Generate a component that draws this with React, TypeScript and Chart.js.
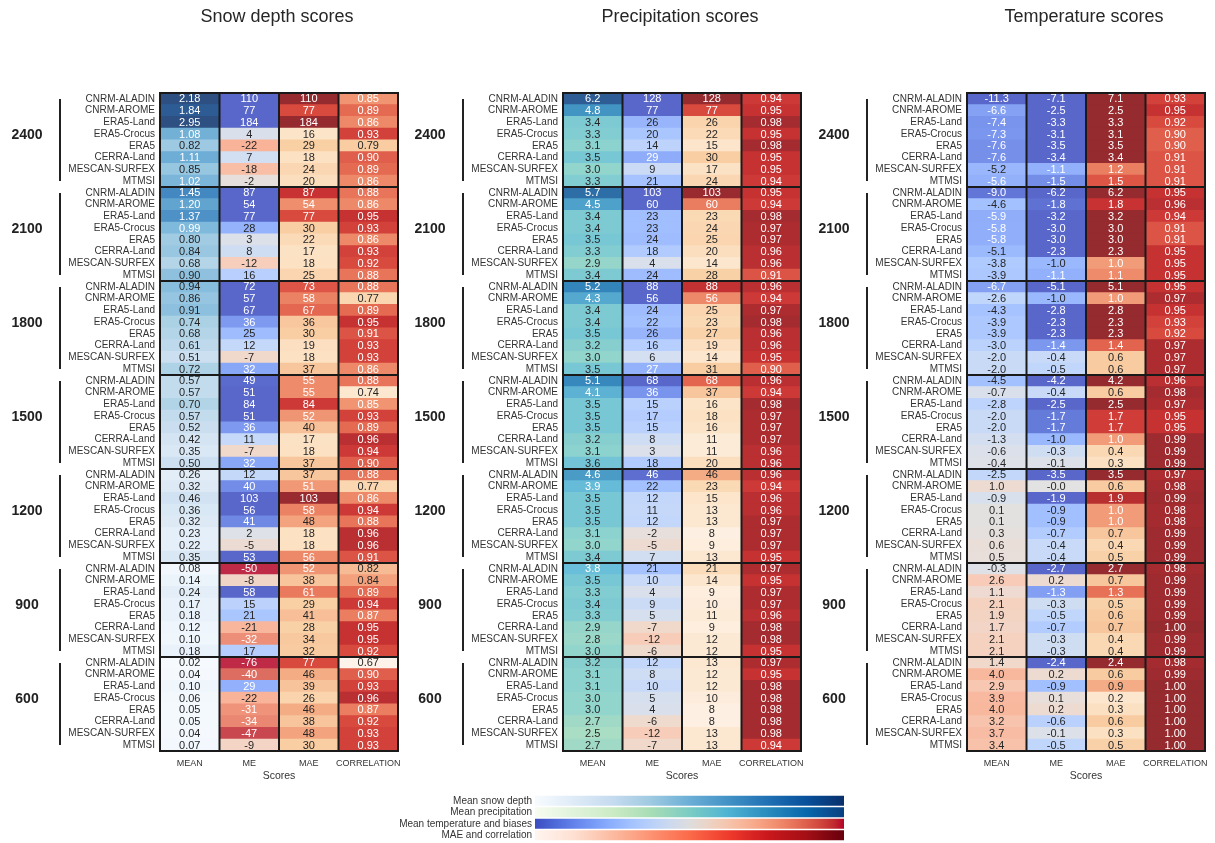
import React, { useEffect, useRef } from 'react';
import { Chart, registerables } from 'chart.js';

Chart.register(...registerables);

const FONT = '"Liberation Sans", Arial, Helvetica, sans-serif';
Chart.defaults.font.family = FONT;

const models = ['CNRM-ALADIN', 'CNRM-AROME', 'ERA5-Land', 'ERA5-Crocus', 'ERA5', 'CERRA-Land', 'MESCAN-SURFEX', 'MTMSI'];
const altitudes = ['2400', '2100', '1800', '1500', '1200', '900', '600'];
const scoreNames = ['MEAN', 'ME', 'MAE', 'CORRELATION'];
const panelTitles = ['Snow depth scores', 'Precipitation scores', 'Temperature scores'];
const legendLabels = ['Mean snow depth', 'Mean precipitation', 'Mean temperature and biases', 'MAE and correlation'];
const rowLabels = altitudes.flatMap(() => models);

const snowMean = [
  2.18, 1.84, 2.95, 1.08, 0.82, 1.11, 0.85, 1.02,
  1.45, 1.20, 1.37, 0.99, 0.80, 0.84, 0.68, 0.90,
  0.94, 0.86, 0.91, 0.74, 0.68, 0.61, 0.51, 0.72,
  0.57, 0.57, 0.70, 0.57, 0.52, 0.42, 0.35, 0.50,
  0.26, 0.32, 0.46, 0.36, 0.32, 0.23, 0.22, 0.35,
  0.08, 0.14, 0.24, 0.17, 0.18, 0.12, 0.10, 0.18,
  0.02, 0.04, 0.10, 0.06, 0.05, 0.05, 0.04, 0.07,
];
const snowME = [
  110, 77, 184, 4, -22, 7, -18, -2,
  87, 54, 77, 28, 3, 8, -12, 16,
  72, 57, 67, 36, 25, 12, -7, 32,
  49, 51, 84, 51, 36, 11, -7, 32,
  12, 40, 103, 56, 41, 2, -5, 53,
  -50, -8, 58, 15, 21, -21, -32, 17,
  -76, -40, 29, -22, -31, -34, -47, -9,
];
const snowMAE = [
  110, 77, 184, 16, 29, 18, 24, 20,
  87, 54, 77, 30, 22, 17, 18, 25,
  73, 58, 67, 36, 30, 19, 18, 37,
  55, 55, 84, 52, 40, 17, 18, 37,
  37, 51, 103, 58, 48, 18, 18, 56,
  52, 38, 61, 29, 41, 28, 34, 32,
  77, 46, 39, 26, 46, 38, 48, 30,
];
const snowCorr = [
  0.85, 0.89, 0.86, 0.93, 0.79, 0.90, 0.89, 0.86,
  0.88, 0.86, 0.95, 0.93, 0.86, 0.93, 0.92, 0.88,
  0.88, 0.77, 0.89, 0.95, 0.91, 0.93, 0.93, 0.86,
  0.88, 0.74, 0.85, 0.93, 0.89, 0.96, 0.94, 0.90,
  0.88, 0.77, 0.86, 0.94, 0.88, 0.96, 0.96, 0.91,
  0.82, 0.84, 0.89, 0.94, 0.87, 0.95, 0.95, 0.92,
  0.67, 0.90, 0.93, 0.96, 0.87, 0.92, 0.93, 0.93,
];

const precipMean = [
  6.2, 4.8, 3.4, 3.3, 3.1, 3.5, 3.0, 3.3,
  5.7, 4.5, 3.4, 3.4, 3.5, 3.3, 2.9, 3.4,
  5.2, 4.3, 3.4, 3.4, 3.5, 3.2, 3.0, 3.5,
  5.1, 4.1, 3.5, 3.5, 3.5, 3.2, 3.1, 3.6,
  4.6, 3.9, 3.5, 3.5, 3.5, 3.1, 3.0, 3.4,
  3.8, 3.5, 3.3, 3.4, 3.3, 2.9, 2.8, 3.0,
  3.2, 3.1, 3.1, 3.0, 3.0, 2.7, 2.5, 2.7,
];
const precipME = [
  128, 77, 26, 20, 14, 29, 9, 21,
  103, 60, 23, 23, 24, 18, 4, 24,
  88, 56, 24, 22, 26, 16, 6, 27,
  68, 36, 15, 17, 15, 8, 3, 18,
  46, 22, 12, 11, 12, -2, -5, 7,
  21, 10, 4, 9, 5, -7, -12, -6,
  12, 8, 10, 5, 4, -6, -12, -7,
];
const precipMAE = [
  128, 77, 26, 22, 15, 30, 17, 24,
  103, 60, 23, 24, 25, 20, 14, 28,
  88, 56, 25, 23, 27, 19, 14, 31,
  68, 37, 16, 18, 16, 11, 11, 20,
  46, 23, 15, 13, 13, 8, 9, 13,
  21, 14, 9, 10, 11, 9, 12, 12,
  13, 12, 12, 10, 8, 8, 13, 13,
];
const precipCorr = [
  0.94, 0.95, 0.98, 0.95, 0.98, 0.95, 0.95, 0.94,
  0.95, 0.94, 0.98, 0.97, 0.97, 0.96, 0.96, 0.91,
  0.96, 0.94, 0.97, 0.98, 0.96, 0.96, 0.95, 0.90,
  0.96, 0.94, 0.98, 0.97, 0.97, 0.97, 0.96, 0.96,
  0.96, 0.94, 0.96, 0.96, 0.97, 0.97, 0.97, 0.95,
  0.97, 0.95, 0.97, 0.97, 0.96, 0.98, 0.98, 0.95,
  0.97, 0.95, 0.98, 0.98, 0.98, 0.98, 0.98, 0.94,
];

const tempMean = [
  -11.3, -6.6, -7.4, -7.3, -7.6, -7.6, -5.2, -5.6,
  -9.0, -4.6, -5.9, -5.8, -5.8, -5.1, -3.8, -3.9,
  -6.7, -2.6, -4.3, -3.9, -3.9, -3.0, -2.0, -2.0,
  -4.5, -0.7, -2.8, -2.0, -2.0, -1.3, -0.6, -0.4,
  -2.5, 1.0, -0.9, 0.1, 0.1, 0.3, 0.6, 0.5,
  -0.3, 2.6, 1.1, 2.1, 1.9, 1.7, 2.1, 2.1,
  1.4, 4.0, 2.9, 3.9, 4.0, 3.2, 3.7, 3.4,
];
const tempME = [
  -7.1, -2.5, -3.3, -3.1, -3.5, -3.4, -1.1, -1.5,
  -6.2, -1.8, -3.2, -3.0, -3.0, -2.3, -1.0, -1.1,
  -5.1, -1.0, -2.8, -2.3, -2.3, -1.4, -0.4, -0.5,
  -4.2, -0.4, -2.5, -1.7, -1.7, -1.0, -0.3, -0.1,
  -3.5, -0, -1.9, -0.9, -0.9, -0.7, -0.4, -0.4,
  -2.7, 0.2, -1.3, -0.3, -0.5, -0.7, -0.3, -0.3,
  -2.4, 0.2, -0.9, 0.1, 0.2, -0.6, -0.1, -0.5,
];
const tempMAE = [
  7.1, 2.5, 3.3, 3.1, 3.5, 3.4, 1.2, 1.5,
  6.2, 1.8, 3.2, 3.0, 3.0, 2.3, 1.0, 1.1,
  5.1, 1.0, 2.8, 2.3, 2.3, 1.4, 0.6, 0.6,
  4.2, 0.6, 2.5, 1.7, 1.7, 1.0, 0.4, 0.3,
  3.5, 0.6, 1.9, 1.0, 1.0, 0.7, 0.4, 0.5,
  2.7, 0.7, 1.3, 0.5, 0.6, 0.7, 0.4, 0.4,
  2.4, 0.6, 0.9, 0.2, 0.3, 0.6, 0.3, 0.5,
];
const tempCorr = [
  0.93, 0.95, 0.92, 0.90, 0.90, 0.91, 0.91, 0.91,
  0.95, 0.96, 0.94, 0.91, 0.91, 0.95, 0.95, 0.95,
  0.95, 0.97, 0.95, 0.93, 0.92, 0.97, 0.97, 0.97,
  0.96, 0.98, 0.97, 0.95, 0.95, 0.99, 0.99, 0.99,
  0.97, 0.98, 0.99, 0.98, 0.98, 0.99, 0.99, 0.99,
  0.98, 0.99, 0.99, 0.99, 0.99, 1.00, 0.99, 0.99,
  0.98, 0.99, 1.00, 1.00, 1.00, 1.00, 1.00, 1.00,
];

// ---------- colour maps ----------
type RGB = [number, number, number];
type Cmap = Array<[number, RGB]>;
const hexToRgb = (h: string): RGB => [parseInt(h.slice(1, 3), 16), parseInt(h.slice(3, 5), 16), parseInt(h.slice(5, 7), 16)];
const even = (cols: (string | RGB)[]): Cmap =>
  cols.map((c, i) => [i / (cols.length - 1), typeof c === 'string' ? hexToRgb(c) : c]);

const BLUES = even(['#f7fbff', '#deebf7', '#c6dbef', '#9ecae1', '#6baed6', '#4292c6', '#2171b5', '#08519c', '#08306b']);
const GNBU = even(['#f7fcf0', '#e0f3db', '#ccebc5', '#a8ddb5', '#7bccc4', '#4eb3d3', '#2b8cbe', '#0868ac', '#084081']);
const REDS = even(['#fff5f0', '#fee0d2', '#fcbba1', '#fc9272', '#fb6a4a', '#ef3b2c', '#cb181d', '#a50f15', '#67000d']);
const COOLWARM = even([
  [59, 76, 192], [68, 90, 204], [77, 104, 215], [87, 117, 225], [98, 130, 234], [108, 142, 241], [119, 154, 247],
  [130, 165, 251], [141, 176, 254], [152, 185, 255], [163, 194, 255], [174, 201, 253], [184, 208, 249],
  [194, 213, 244], [204, 217, 238], [213, 219, 230], [221, 221, 221], [229, 216, 209], [236, 211, 197],
  [241, 204, 185], [245, 196, 173], [247, 187, 160], [247, 177, 148], [247, 166, 135], [244, 154, 123],
  [241, 141, 111], [236, 127, 99], [229, 112, 88], [222, 96, 77], [213, 80, 66], [203, 62, 56], [192, 40, 47],
  [180, 4, 38],
]);
const HEAT: Cmap = ([
  [0.0, '#fdf3ea'], [0.11, '#fce4c8'], [0.24, '#f9cfa4'], [0.35, '#f7c29a'], [0.42, '#f4a882'],
  [0.49, '#ef8e6d'], [0.6, '#e66e55'], [0.72, '#d8493e'], [0.82, '#c83232'], [0.9, '#ab2c2f'], [1.0, '#952a2f'],
] as Array<[number, string]>).map(([p, h]) => [p, hexToRgb(h)] as [number, RGB]);

function sample(cmap: Cmap, t: number): RGB {
  const x = Math.max(0, Math.min(1, t));
  for (let i = 1; i < cmap.length; i++) {
    const [p1, c1] = cmap[i];
    const [p0, c0] = cmap[i - 1];
    if (x <= p1) {
      const f = p1 === p0 ? 0 : (x - p0) / (p1 - p0);
      return [0, 1, 2].map((k) => c0[k] + (c1[k] - c0[k]) * f) as RGB;
    }
  }
  return cmap[cmap.length - 1][1];
}
const soft = (c: RGB): RGB => c.map((v) => 0.85 * v + 0.15 * 255) as RGB;
const css = (c: RGB) => `rgb(${Math.round(c[0])},${Math.round(c[1])},${Math.round(c[2])})`;
const lin = (v: number) => {
  const s = v / 255;
  return s <= 0.04045 ? s / 12.92 : Math.pow((s + 0.055) / 1.055, 2.4);
};
const textColour = (c: RGB) =>
  0.2126 * lin(c[0]) + 0.7152 * lin(c[1]) + 0.0722 * lin(c[2]) < 0.455 ? '#ffffff' : '#262626';

const f0 = (v: number) => v.toFixed(0);
const f1 = (v: number) => (Object.is(v, -0) ? '-' : '') + v.toFixed(1);
const f2 = (v: number) => v.toFixed(2);

const corrColour = (v: number) => sample(HEAT, (v - 0.715) / 0.285);

type Column = { values: number[]; fmt: (v: number) => string; colour: (v: number) => RGB };
type PanelDef = { title: string; cols: Column[] };

const panels: PanelDef[] = [
  {
    title: panelTitles[0],
    cols: [
      { values: snowMean, fmt: f2, colour: (v) => soft(sample(BLUES, v / 1.95)) },
      { values: snowME, fmt: f0, colour: (v) => soft(sample(COOLWARM, 0.5 - v / 100)) },
      { values: snowMAE, fmt: f0, colour: (v) => sample(HEAT, (v - 5) / 100) },
      { values: snowCorr, fmt: f2, colour: corrColour },
    ],
  },
  {
    title: panelTitles[1],
    cols: [
      { values: precipMean, fmt: f1, colour: (v) => soft(sample(GNBU, v / 6.1)) },
      { values: precipME, fmt: f0, colour: (v) => soft(sample(COOLWARM, 0.5 - v / 95.6)) },
      { values: precipMAE, fmt: f0, colour: (v) => sample(HEAT, (v - 5) / 100) },
      { values: precipCorr, fmt: f2, colour: corrColour },
    ],
  },
  {
    title: panelTitles[2],
    cols: [
      { values: tempMean, fmt: f1, colour: (v) => soft(sample(COOLWARM, 0.5 + v / 19.6)) },
      { values: tempME, fmt: f1, colour: (v) => soft(sample(COOLWARM, 0.5 + v / 3.8)) },
      { values: tempMAE, fmt: f1, colour: (v) => sample(HEAT, v / 2.2) },
      { values: tempCorr, fmt: f2, colour: corrColour },
    ],
  },
];

function Panel({ def, left }: { def: PanelDef; left: number }) {
  const ref = useRef<HTMLCanvasElement>(null);
  useEffect(() => {
    const canvas = ref.current;
    if (!canvas) return;
    const nGroups = altitudes.length;
    const perGroup = models.length;
    const cellPlugin = {
      id: 'cellText',
      afterDatasetsDraw(chart: any) {
        const { ctx, chartArea: a, scales } = chart;
        const x = scales.x;
        const y = scales.y;
        ctx.save();
        // values inside cells
        ctx.font = `11px ${FONT}`;
        ctx.textAlign = 'center';
        ctx.textBaseline = 'middle';
        def.cols.forEach((col, c) => {
          const cx = x.getPixelForValue(c + 0.5);
          col.values.forEach((v, i) => {
            const cy = y.getPixelForValue(i);
            ctx.fillStyle = textColour(col.colour(v));
            ctx.fillText(col.fmt(v), cx, cy + 0.5);
          });
        });
        // separators
        ctx.strokeStyle = '#1a1a1a';
        ctx.lineWidth = 2;
        ctx.beginPath();
        for (let c = 0; c <= scoreNames.length; c++) {
          const px = x.getPixelForValue(c);
          ctx.moveTo(px, a.top);
          ctx.lineTo(px, a.bottom);
        }
        for (let g = 0; g <= nGroups; g++) {
          let py;
          if (g === 0) py = a.top;
          else if (g === nGroups) py = a.bottom;
          else py = (y.getPixelForValue(g * perGroup - 1) + y.getPixelForValue(g * perGroup)) / 2;
          ctx.moveTo(a.left - 1, py);
          ctx.lineTo(a.right + 1, py);
        }
        ctx.stroke();
        // group brackets and altitude labels
        const rowH = y.getPixelForValue(1) - y.getPixelForValue(0);
        ctx.strokeStyle = '#222';
        ctx.lineWidth = 2;
        ctx.fillStyle = '#222';
        ctx.font = `bold 14px ${FONT}`;
        altitudes.forEach((alt, g) => {
          const top = y.getPixelForValue(g * perGroup) - rowH / 2;
          const bot = y.getPixelForValue((g + 1) * perGroup - 1) + rowH / 2;
          const lx = a.left - 100;
          ctx.beginPath();
          ctx.moveTo(lx, top + 6);
          ctx.lineTo(lx, bot - 6);
          ctx.stroke();
          ctx.fillText(alt, a.left - 133, (top + bot) / 2 - 5);
        });
        // title
        ctx.font = `18px ${FONT}`;
        ctx.fillStyle = '#262626';
        ctx.fillText(def.title, (a.left + a.right) / 2 - 2, 17);
        ctx.restore();
      },
    };

    const datasets = def.cols.map((col, c) => ({
      data: col.values.map(() => [c, c + 1]),
      backgroundColor: col.values.map((v) => css(col.colour(v))),
      borderWidth: 0,
      barPercentage: 1,
      categoryPercentage: 1,
      grouped: false,
      inflateAmount: 0.4,
    }));

    const chart = new Chart(canvas, {
      type: 'bar',
      data: { labels: rowLabels, datasets: datasets as any },
      options: {
        indexAxis: 'y',
        animation: false,
        responsive: false,
        events: [],
        layout: { padding: { left: 60, top: 93, right: 7, bottom: 4 } },
        plugins: { legend: { display: false }, tooltip: { enabled: false }, title: { display: false } },
        scales: {
          x: {
            type: 'linear',
            min: 0,
            max: 4,
            grid: { display: false, drawTicks: false },
            border: { display: false },
            afterBuildTicks: (s: any) => {
              s.ticks = [0.5, 1.5, 2.5, 3.5].map((v) => ({ value: v }));
            },
            afterFit: (s: any) => {
              s.height = 35;
              s.paddingLeft = 0;
              s.paddingRight = 0;
            },
            ticks: {
              padding: 7,
              autoSkip: false,
              maxRotation: 0,
              font: { size: 9, family: FONT },
              color: '#333',
              callback: (_v: any, i: number) => scoreNames[i],
            },
            title: {
              display: true,
              text: 'Scores',
              font: { size: 10.5, family: FONT },
              color: '#333',
              padding: { top: 2, bottom: 4 },
            },
          },
          y: {
            type: 'category',
            grid: { display: false, drawTicks: false },
            border: { display: false },
            afterFit: (s: any) => {
              s.width = 100;
              s.paddingTop = 0;
              s.paddingBottom = 0;
            },
            ticks: { autoSkip: false, padding: 5, font: { size: 10, family: FONT }, color: '#333' },
          },
        },
      } as any,
      plugins: [cellPlugin],
    });
    return () => chart.destroy();
  }, [def]);
  return <canvas ref={ref} width={405} height={790} style={{ position: 'absolute', left, top: 0 }} />;
}

const legendMaps: Cmap[] = [BLUES, GNBU, COOLWARM, REDS];

function ColourLegend() {
  const ref = useRef<HTMLCanvasElement>(null);
  useEffect(() => {
    const canvas = ref.current;
    if (!canvas) return;
    const chart = new Chart(canvas, {
      type: 'bar',
      data: {
        labels: legendLabels,
        datasets: [
          {
            data: legendLabels.map(() => [0, 1]) as any,
            backgroundColor: (ctx: any) => {
              const area = ctx.chart.chartArea;
              const cmap = legendMaps[ctx.dataIndex] || REDS;
              if (!area) return css(cmap[0][1]);
              const g = ctx.chart.ctx.createLinearGradient(area.left, 0, area.right, 0);
              cmap.forEach(([p, c]) => g.addColorStop(p, css(c)));
              return g;
            },
            borderWidth: 0,
            barPercentage: 0.87,
            categoryPercentage: 1,
          },
        ],
      },
      options: {
        indexAxis: 'y',
        animation: false,
        responsive: false,
        events: [],
        layout: { padding: { left: 0, top: 10, right: 16, bottom: 2 } },
        plugins: { legend: { display: false }, tooltip: { enabled: false } },
        scales: {
          x: { type: 'linear', min: 0, max: 1, display: false },
          y: {
            type: 'category',
            grid: { display: false, drawTicks: false },
            border: { display: false },
            afterFit: (s: any) => {
              s.width = 155;
              s.paddingTop = 0;
              s.paddingBottom = 0;
            },
            ticks: { autoSkip: false, padding: 3, font: { size: 10, family: FONT }, color: '#333' },
          },
        },
      } as any,
    });
    return () => chart.destroy();
  }, []);
  return <canvas ref={ref} width={480} height={58} style={{ position: 'absolute', left: 380, top: 785 }} />;
}

export default function App() {
  return (
    <div style={{ position: 'absolute', left: 0, top: 0, width: 1215, height: 843, background: '#ffffff', overflow: 'hidden' }}>
      <Panel def={panels[0]} left={0} />
      <Panel def={panels[1]} left={403} />
      <Panel def={panels[2]} left={807} />
      <ColourLegend />
    </div>
  );
}
